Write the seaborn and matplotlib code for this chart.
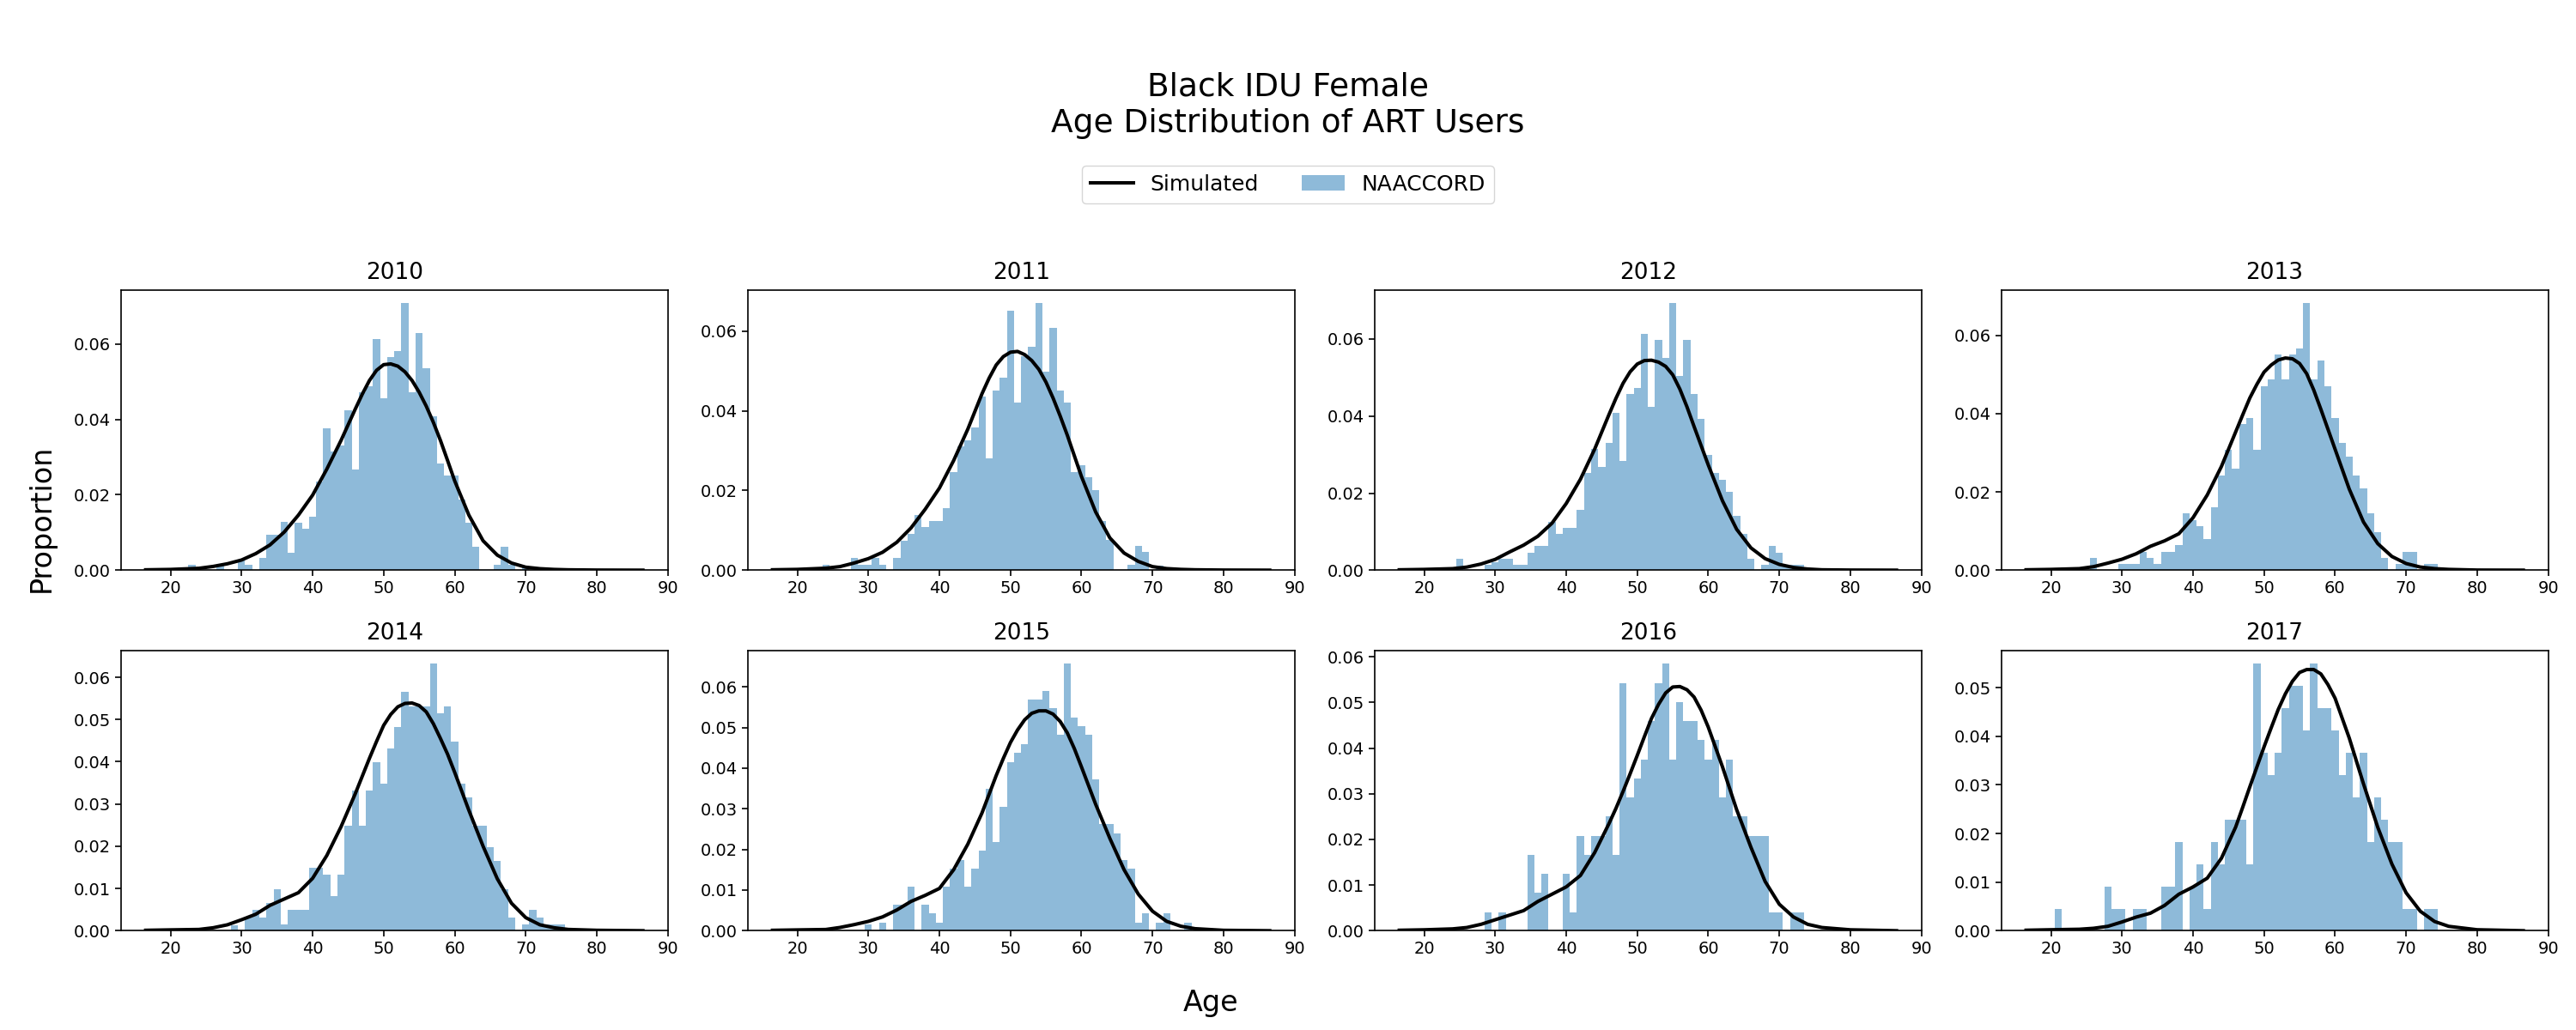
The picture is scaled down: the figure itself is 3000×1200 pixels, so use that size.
import numpy as np
import pandas as pd
import matplotlib
matplotlib.use("Agg")
import matplotlib.pyplot as plt
from matplotlib.lines import Line2D
from matplotlib.patches import Patch
from matplotlib.ticker import MultipleLocator, FormatStrFormatter
import seaborn as sns

# =========================================================
# DATA
# =========================================================

YEARS = [2010, 2011, 2012, 2013, 2014, 2015, 2016, 2017]

# NAACCORD proportions, one value per age 20..75
AGES = list(range(20, 76))

naaccord_2010 = [0, 0, 0, 0.0014, 0, 0, 0, 0.0012, 0, 0,
                 0.0025, 0.0015, 0, 0.0032, 0.0095, 0.0095, 0.0127, 0.0047, 0.0126, 0.0110,
                 0.0142, 0.0236, 0.0376, 0.0315, 0.0330, 0.0424, 0.0267, 0.0472, 0.0488, 0.0612,
                 0.0456, 0.0565, 0.0580, 0.0708, 0.0472, 0.0629, 0.0535, 0.0408, 0.0283, 0.0251,
                 0.0251, 0.0187, 0.0126, 0.0062, 0, 0, 0.0014, 0.0062, 0.0014, 0,
                 0.0012, 0, 0, 0, 0, 0]
naaccord_2011 = [0, 0, 0, 0, 0.0014, 0, 0, 0, 0.0031, 0.0014,
                 0.0014, 0.0031, 0.0014, 0, 0.0031, 0.0074, 0.0092, 0.0138, 0.0108, 0.0124,
                 0.0124, 0.0156, 0.0247, 0.0310, 0.0325, 0.0359, 0.0435, 0.0280, 0.0450, 0.0483,
                 0.0652, 0.0420, 0.0536, 0.0560, 0.0670, 0.0498, 0.0608, 0.0450, 0.0420, 0.0247,
                 0.0263, 0.0233, 0.0200, 0.0124, 0.0076, 0, 0, 0.0014, 0.0061, 0.0046,
                 0, 0.0012, 0, 0, 0, 0]
naaccord_2012 = [0, 0, 0, 0, 0, 0.0030, 0, 0, 0, 0.0014,
                 0.0020, 0.0030, 0.0030, 0.0014, 0.0014, 0.0045, 0.0063, 0.0063, 0.0125, 0.0094,
                 0.0110, 0.0110, 0.0157, 0.0252, 0.0315, 0.0268, 0.0330, 0.0408, 0.0283, 0.0457,
                 0.0473, 0.0613, 0.0424, 0.0597, 0.0551, 0.0693, 0.0504, 0.0597, 0.0457, 0.0393,
                 0.0299, 0.0252, 0.0234, 0.0203, 0.0141, 0.0094, 0.0030, 0, 0.0014, 0.0063,
                 0.0045, 0.0012, 0.0014, 0.0014, 0, 0]
naaccord_2013 = [0, 0, 0, 0, 0, 0, 0.0031, 0, 0, 0,
                 0.0015, 0.0015, 0.0015, 0.0046, 0.0031, 0.0015, 0.0047, 0.0047, 0.0064, 0.0145,
                 0.0128, 0.0113, 0.0080, 0.0161, 0.0241, 0.0307, 0.0259, 0.0373, 0.0388, 0.0307,
                 0.0469, 0.0487, 0.0550, 0.0487, 0.0550, 0.0567, 0.0682, 0.0487, 0.0535, 0.0469,
                 0.0388, 0.0325, 0.0290, 0.0241, 0.0210, 0.0145, 0.0097, 0.0031, 0, 0.0015,
                 0.0047, 0.0047, 0, 0.0015, 0.0015, 0]
naaccord_2014 = [0, 0, 0, 0, 0, 0, 0, 0, 0, 0.0013,
                 0, 0.0031, 0.0049, 0.0031, 0.0066, 0.0098, 0.0014, 0.0049, 0.0049, 0.0049,
                 0.0149, 0.0149, 0.0133, 0.0082, 0.0133, 0.0248, 0.0332, 0.0248, 0.0332, 0.0399,
                 0.0348, 0.0431, 0.0482, 0.0565, 0.0531, 0.0531, 0.0531, 0.0632, 0.0515, 0.0531,
                 0.0448, 0.0348, 0.0316, 0.0248, 0.0248, 0.0198, 0.0165, 0.0098, 0.0031, 0,
                 0.0014, 0.0049, 0.0031, 0.0014, 0.0014, 0.0014]
naaccord_2015 = [0, 0, 0, 0, 0, 0, 0, 0, 0, 0,
                 0.0015, 0, 0.0020, 0, 0.0063, 0.0063, 0.0108, 0, 0.0063, 0.0043,
                 0.0020, 0.0108, 0.0153, 0.0174, 0.0108, 0.0153, 0.0197, 0.0349, 0.0219, 0.0304,
                 0.0414, 0.0437, 0.0458, 0.0568, 0.0568, 0.0589, 0.0547, 0.0482, 0.0657, 0.0524,
                 0.0503, 0.0482, 0.0372, 0.0262, 0.0262, 0.0239, 0.0174, 0.0153, 0.0020, 0.0043,
                 0, 0.0020, 0.0043, 0, 0, 0.0020]
naaccord_2016 = [0, 0, 0, 0, 0, 0, 0, 0, 0, 0.0040,
                 0, 0.0040, 0, 0, 0, 0.0166, 0.0083, 0.0125, 0, 0,
                 0.0125, 0.0040, 0.0207, 0.0166, 0.0207, 0.0207, 0.0250, 0.0166, 0.0542, 0.0292,
                 0.0333, 0.0374, 0.0459, 0.0542, 0.0585, 0.0374, 0.0500, 0.0459, 0.0459, 0.0418,
                 0.0374, 0.0418, 0.0292, 0.0374, 0.0250, 0.0250, 0.0207, 0.0207, 0.0207, 0.0040,
                 0.0040, 0, 0.0040, 0.0040, 0, 0]
naaccord_2017 = [0, 0.0045, 0, 0, 0, 0, 0, 0, 0.0091, 0.0045,
                 0.0045, 0, 0.0045, 0.0045, 0, 0, 0.0091, 0.0091, 0.0183, 0,
                 0.0091, 0.0137, 0.0045, 0.0183, 0.0137, 0.0228, 0.0228, 0.0228, 0.0137, 0.0549,
                 0.0366, 0.0320, 0.0366, 0.0457, 0.0503, 0.0503, 0.0412, 0.0549, 0.0457, 0.0457,
                 0.0412, 0.0320, 0.0366, 0.0275, 0.0366, 0.0183, 0.0275, 0.0228, 0.0183, 0.0183,
                 0.0045, 0.0045, 0, 0.0045, 0.0045, 0]

# Simulated density, read at these ages
LINE_AGES = [16.5, 20, 24, 26, 28, 30, 32, 34, 36, 38, 40, 42, 44, 46, 47, 48, 49,
             50, 51, 52, 53, 54, 55, 56, 57, 58, 59, 60, 62, 64, 66, 68, 70, 72,
             74, 76, 80, 86.5]

simulated_2010 = [0.0001, 0.0002, 0.0005, 0.0010, 0.0017, 0.0027, 0.0044, 0.0067, 0.0101, 0.0146,
                  0.0199, 0.0268, 0.0344, 0.0427, 0.0467, 0.0503, 0.0530, 0.0545, 0.0547, 0.0541,
                  0.0526, 0.0503, 0.0472, 0.0435, 0.0392, 0.0344, 0.0291, 0.0237, 0.0146, 0.0078,
                  0.0040, 0.0019, 0.0008, 0.0004, 0.0002, 0.0001, 0.00003, 0]
simulated_2011 = [0.0001, 0.0002, 0.0005, 0.0009, 0.0018, 0.0029, 0.0045, 0.0070, 0.0106, 0.0153,
                  0.0206, 0.0275, 0.0354, 0.0443, 0.0482, 0.0515, 0.0536, 0.0547, 0.0549, 0.0541,
                  0.0526, 0.0504, 0.0472, 0.0432, 0.0387, 0.0339, 0.0287, 0.0235, 0.0146, 0.0081,
                  0.0043, 0.0022, 0.0009, 0.0004, 0.0002, 0.0001, 0.00003, 0]
simulated_2012 = [0.0001, 0.0002, 0.0004, 0.0008, 0.0016, 0.0028, 0.0047, 0.0065, 0.0088, 0.0122,
                  0.0173, 0.0236, 0.0314, 0.0403, 0.0446, 0.0485, 0.0515, 0.0535, 0.0544, 0.0545,
                  0.0540, 0.0529, 0.0507, 0.0470, 0.0424, 0.0373, 0.0323, 0.0273, 0.0180, 0.0106,
                  0.0058, 0.0030, 0.0015, 0.0007, 0.0003, 0.0001, 0.00003, 0]
simulated_2013 = [0.0001, 0.0002, 0.0004, 0.0009, 0.0018, 0.0028, 0.0042, 0.0061, 0.0075, 0.0093,
                  0.0134, 0.0192, 0.0265, 0.0353, 0.0397, 0.0440, 0.0475, 0.0506, 0.0524, 0.0537,
                  0.0542, 0.0540, 0.0528, 0.0502, 0.0460, 0.0411, 0.0360, 0.0309, 0.0207, 0.0123,
                  0.0068, 0.0035, 0.0017, 0.0008, 0.0004, 0.0002, 0.00003, 0]
simulated_2014 = [0.0001, 0.0002, 0.0003, 0.0007, 0.0014, 0.0026, 0.0039, 0.0060, 0.0075, 0.0090,
                  0.0124, 0.0178, 0.0246, 0.0324, 0.0366, 0.0408, 0.0448, 0.0486, 0.0512, 0.0530,
                  0.0538, 0.0539, 0.0533, 0.0518, 0.0490, 0.0455, 0.0418, 0.0375, 0.0285, 0.0200,
                  0.0123, 0.0065, 0.0031, 0.0014, 0.0007, 0.0003, 0.0001, 0]
simulated_2015 = [0.0001, 0.0002, 0.0003, 0.0008, 0.0015, 0.0023, 0.0034, 0.0051, 0.0072, 0.0087,
                  0.0104, 0.0150, 0.0213, 0.0290, 0.0336, 0.0382, 0.0424, 0.0463, 0.0494, 0.0519,
                  0.0535, 0.0541, 0.0541, 0.0533, 0.0515, 0.0487, 0.0448, 0.0403, 0.0311, 0.0227,
                  0.0150, 0.0090, 0.0048, 0.0023, 0.0011, 0.0005, 0.0001, 0]
simulated_2016 = [0.0001, 0.0002, 0.0004, 0.0007, 0.0014, 0.0024, 0.0034, 0.0044, 0.0064, 0.0080,
                  0.0096, 0.0121, 0.0171, 0.0234, 0.0268, 0.0305, 0.0344, 0.0384, 0.0425, 0.0465,
                  0.0496, 0.0521, 0.0534, 0.0535, 0.0528, 0.0512, 0.0483, 0.0446, 0.0359, 0.0265,
                  0.0183, 0.0108, 0.0058, 0.0030, 0.0014, 0.0007, 0.0002, 0]
simulated_2017 = [0.0001, 0.0002, 0.0003, 0.0005, 0.0009, 0.0018, 0.0028, 0.0036, 0.0052, 0.0075,
                  0.0090, 0.0108, 0.0149, 0.0213, 0.0254, 0.0296, 0.0337, 0.0378, 0.0417, 0.0455,
                  0.0487, 0.0513, 0.0531, 0.0537, 0.0537, 0.0528, 0.0506, 0.0478, 0.0396, 0.0302,
                  0.0213, 0.0137, 0.0078, 0.0040, 0.0019, 0.0009, 0.0002, 0]

NAACCORD = [naaccord_2010, naaccord_2011, naaccord_2012, naaccord_2013,
            naaccord_2014, naaccord_2015, naaccord_2016, naaccord_2017]
SIMULATED = [simulated_2010, simulated_2011, simulated_2012, simulated_2013,
             simulated_2014, simulated_2015, simulated_2016, simulated_2017]

TITLE = "Black IDU Female\nAge Distribution of ART Users"

# =========================================================
# ESTILO
# =========================================================

BAR_COLOR = "C0"
LINE_WIDTH = 2.9


def draw_panel(ax, year, bars, line, ystep):
    bar_df = pd.DataFrame({"age": AGES, "proportion": bars})
    line_df = pd.DataFrame({"age": LINE_AGES, "density": line})

    # one bin per year of age, centred on the integer age
    sns.histplot(data=bar_df, x="age", weights="proportion",
                 binwidth=1, binrange=(19.5, 75.5), stat="count",
                 color=BAR_COLOR, alpha=0.5, linewidth=0, ax=ax)
    sns.lineplot(data=line_df, x="age", y="density", color="black",
                 linewidth=LINE_WIDTH, ax=ax)

    ax.set_xlim(13, 90)
    ax.set_xticks(range(20, 91, 10))
    ax.yaxis.set_major_locator(MultipleLocator(ystep))
    ax.yaxis.set_major_formatter(FormatStrFormatter("%.2f"))
    ax.set_xlabel("")
    ax.set_ylabel("")
    ax.set_title(str(year), fontsize=19, pad=9)
    ax.tick_params(labelsize=14, length=5, width=1.2)
    for spine in ax.spines.values():
        spine.set_linewidth(1.2)


def main():
    fig, axes = plt.subplots(2, 4, figsize=(30, 12), dpi=100)
    fig.subplots_adjust(left=0.0469, right=0.9892, top=0.7186, bottom=0.0964,
                        wspace=0.146, hspace=0.286)

    for i, ax in enumerate(axes.flat):
        ystep = 0.02 if i < 4 else 0.01
        draw_panel(ax, YEARS[i], NAACCORD[i], SIMULATED[i], ystep)

    fig.suptitle(TITLE, fontsize=27, x=0.5, y=0.93, va="top")

    handles = [Line2D([0], [0], color="black", linewidth=LINE_WIDTH),
               Patch(facecolor=BAR_COLOR, alpha=0.5)]
    fig.legend(handles, ["Simulated", "NAACCORD"], loc="center",
               bbox_to_anchor=(0.5, 0.821), ncol=2, fontsize=18)

    fig.text(0.47, 0.026, "Age", fontsize=24, ha="center", va="center")
    fig.text(0.016, 0.497, "Proportion", fontsize=24, ha="center", va="center",
             rotation=90)

    fig.savefig("out.png", dpi=100)
    plt.close(fig)


if __name__ == "__main__":
    main()
